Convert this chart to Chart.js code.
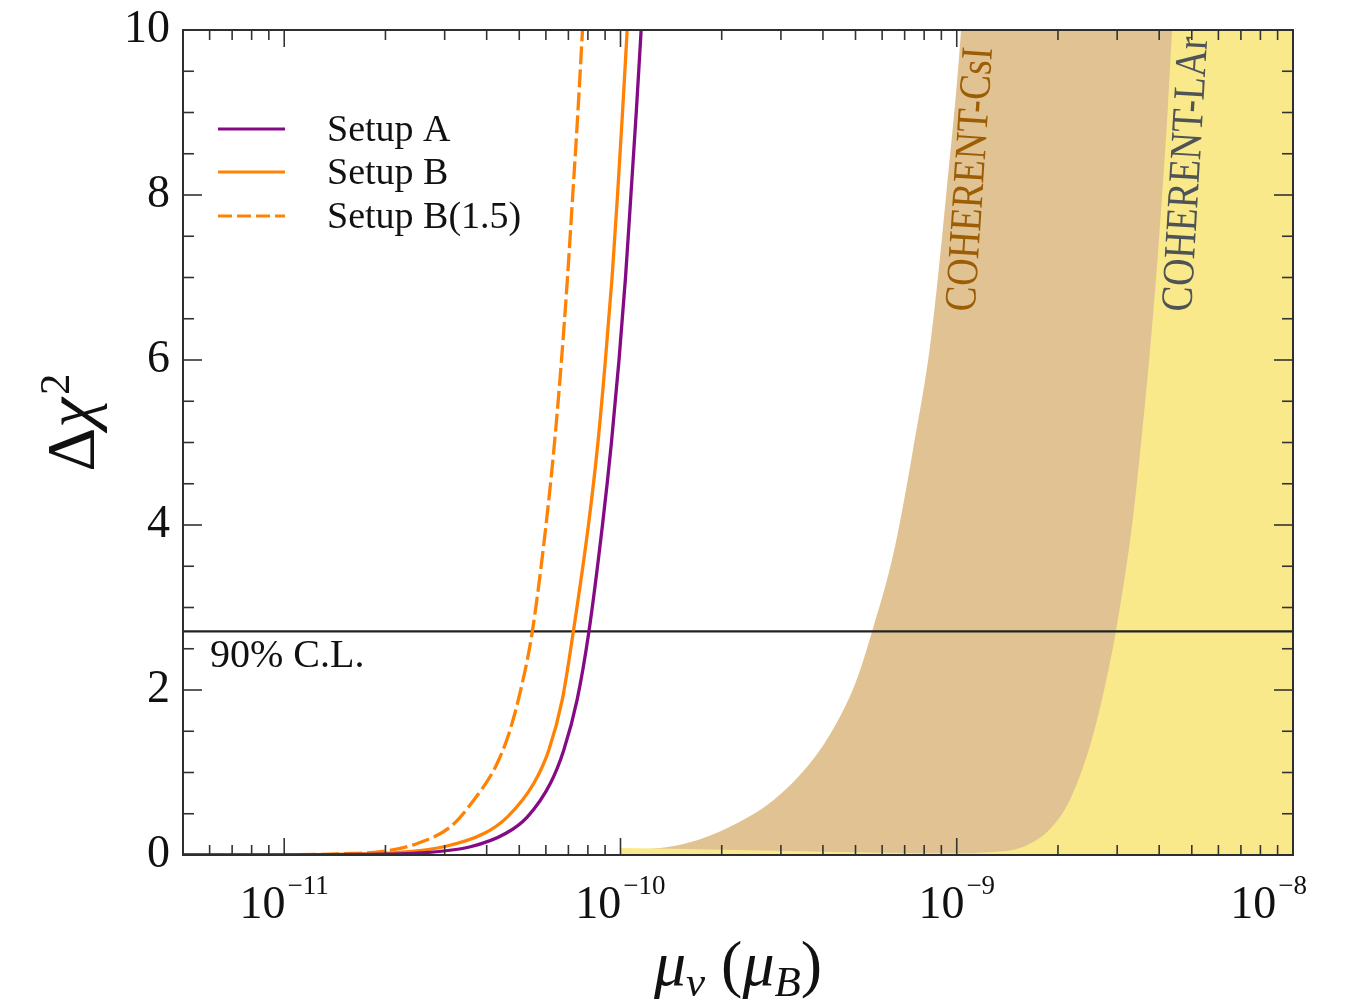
<!DOCTYPE html>
<html>
<head>
<meta charset="utf-8">
<title>Delta chi2 vs magnetic moment</title>
<script src="https://cdn.jsdelivr.net/npm/chart.js@4.4.1/dist/chart.umd.min.js"></script>
<style>
html,body{margin:0;padding:0;background:#ffffff;overflow:hidden;}
canvas{display:block;}
</style>
</head>
<body>
<canvas id="chart" width="1357" height="1004"></canvas>
<script>
// ---------- axes ----------
const xRange = [5e-12, 1e-8];
const yRange = [0, 10];
const xMajorTicks = [1e-11, 1e-10, 1e-9, 1e-8];
const xTickBase = '10';
const xTickExponents = ['\u221211', '\u221210', '\u22129', '\u22128'];
const xMinorTicks = [6e-12, 7e-12, 8e-12, 9e-12,
  2e-11, 3e-11, 4e-11, 5e-11, 6e-11, 7e-11, 8e-11, 9e-11,
  2e-10, 3e-10, 4e-10, 5e-10, 6e-10, 7e-10, 8e-10, 9e-10,
  2e-9, 3e-9, 4e-9, 5e-9, 6e-9, 7e-9, 8e-9, 9e-9];
const yMajorTicks = [0, 2, 4, 6, 8, 10];
const yMinorTicks = [0.5, 1, 1.5, 2.5, 3, 3.5, 4.5, 5, 5.5, 6.5, 7, 7.5, 8.5, 9, 9.5];

// ---------- series (mu_nu in mu_B, Delta chi^2) ----------
const setupA_mu   = [5e-12, 1e-11, 1.8e-11, 2.43e-11, 3.58e-11, 4.55e-11, 5.28e-11, 6.19e-11, 6.78e-11, 7.43e-11, 8.05e-11, 8.84e-11, 9.40e-11, 9.90e-11, 1.035e-10, 1.074e-10, 1.114e-10, 1.152e-10];
const setupA_chi2 = [0, 0.001, 0.008, 0.02, 0.10, 0.26, 0.46, 0.87, 1.27, 1.88, 2.70, 4.0, 5.0, 6.0, 7.0, 8.0, 9.0, 10.0];

const setupB_mu   = [5e-12, 1e-11, 1.6e-11, 2.17e-11, 2.985e-11, 3.925e-11, 4.605e-11, 5.525e-11, 6.12e-11, 6.71e-11, 7.235e-11, 8.03e-11, 8.57e-11, 9.02e-11, 9.44e-11, 9.80e-11, 1.014e-10, 1.047e-10];
const setupB_chi2 = [0, 0.002, 0.01, 0.03, 0.10, 0.26, 0.46, 0.87, 1.27, 1.88, 2.70, 4.0, 5.0, 6.0, 7.0, 8.0, 9.0, 10.0];

const setupB15_mu   = [5e-12, 1e-11, 1.5e-11, 1.935e-11, 2.488e-11, 3.125e-11, 3.664e-11, 4.25e-11, 4.657e-11, 5.103e-11, 5.464e-11, 6.006e-11, 6.366e-11, 6.677e-11, 6.957e-11, 7.212e-11, 7.47e-11, 7.71e-11];
const setupB15_chi2 = [0, 0.003, 0.015, 0.04, 0.14, 0.343, 0.667, 1.07, 1.47, 2.08, 2.70, 4.0, 5.0, 6.0, 7.0, 8.0, 9.0, 10.0];

const csi_mu   = [1e-10, 1.256e-10, 1.69e-10, 2.22e-10, 2.855e-10, 3.59e-10, 4.21e-10, 4.99e-10, 5.60e-10, 6.52e-10, 7.41e-10, 8.36e-10, 9.3e-10, 1.03e-9, 1.1e-9, 1e-8];
const csi_chi2 = [0.07, 0.08, 0.18, 0.384, 0.667, 1.07, 1.47, 2.08, 2.71, 3.70, 4.91, 6.22, 8.0, 10.0, 12.0, 12.0];

const lar_mu   = [1e-10, 2e-10, 4e-10, 7e-10, 1e-9, 1.2e-9, 1.58e-9, 1.9e-9, 2.17e-9, 2.49e-9, 2.73e-9, 2.97e-9, 3.323e-9, 3.534e-9, 3.734e-9, 3.917e-9, 4.081e-9, 4.237e-9, 4.37e-9, 4.7e-9, 1e-8];
const lar_chi2 = [0.085, 0.065, 0.04, 0.025, 0.02, 0.03, 0.10, 0.32, 0.667, 1.32, 1.96, 2.70, 4.0, 5.0, 6.0, 7.0, 8.0, 9.0, 10.0, 12.0, 12.0];

const clLevel = 2.71;
const clLabel = '90% C.L.';
const seriesLabels = ['Setup A', 'Setup B', 'Setup B(1.5)'];
const bandLabels = ['COHERENT-CsI', 'COHERENT-LAr'];

// ---------- styles ----------
const PURPLE = '#850a85';
const ORANGE = '#ff8205';
const TAN = '#e1c393';
const YELLOW = '#fae98a';
const SERIF = '"Liberation Serif", "DejaVu Serif", "Times New Roman", serif';

function pts(xs, ys) { return xs.map((v, i) => ({ x: v, y: ys[i] })); }
function seg(ctx, x1, y1, x2, y2) { ctx.beginPath(); ctx.moveTo(x1, y1); ctx.lineTo(x2, y2); ctx.stroke(); }

const decorPlugin = {
  id: 'decor',
  afterDatasetsDraw(chart) {
    const { ctx, chartArea: a, scales } = chart;
    const xs = scales.x, ys = scales.y;
    ctx.save();

    // ---- band labels (rotated, following the band edges) ----
    ctx.textAlign = 'left';
    ctx.textBaseline = 'alphabetic';
    const bandLab = (txt, xv, yv, color, ang) => {
      ctx.save();
      ctx.translate(xs.getPixelForValue(xv), ys.getPixelForValue(yv));
      ctx.rotate(ang);
      ctx.scale(1, 1.18);
      ctx.font = '38px ' + SERIF;
      ctx.fillStyle = color;
      ctx.fillText(txt, 0, 0);
      ctx.restore();
    };
    bandLab(bandLabels[0], 1.13e-9, 6.58, '#9c5d05', -86.2 * Math.PI / 180);
    bandLab(bandLabels[1], 4.97e-9, 6.58, '#4d5357', -86.6 * Math.PI / 180);

    // ---- 90% C.L. label ----
    ctx.font = '40px ' + SERIF;
    ctx.fillStyle = '#111';
    ctx.fillText(clLabel, a.left + 27, ys.getPixelForValue(clLevel) + 36);

    // ---- legend ----
    const legY = [a.top + 99, a.top + 142, a.top + 186];
    const legColors = [PURPLE, ORANGE, ORANGE];
    const legDash = [[], [], [14, 5]];
    for (let i = 0; i < 3; i++) {
      ctx.strokeStyle = legColors[i];
      ctx.lineWidth = 3.2;
      ctx.setLineDash(legDash[i]);
      seg(ctx, a.left + 35, legY[i], a.left + 102, legY[i]);
      ctx.setLineDash([]);
      ctx.font = '38px ' + SERIF;
      ctx.fillStyle = '#111';
      ctx.fillText(seriesLabels[i], a.left + 144, legY[i] + 12);
    }

    // ---- inward tick marks on all four sides ----
    ctx.strokeStyle = '#333';
    ctx.lineWidth = 1.6;
    const MAJ = 17, MIN = 10;
    xMajorTicks.forEach(v => { const p = xs.getPixelForValue(v); seg(ctx, p, a.bottom, p, a.bottom - MAJ); seg(ctx, p, a.top, p, a.top + MAJ); });
    xMinorTicks.forEach(v => { const p = xs.getPixelForValue(v); seg(ctx, p, a.bottom, p, a.bottom - MIN); seg(ctx, p, a.top, p, a.top + MIN); });
    yMajorTicks.forEach(v => { const p = ys.getPixelForValue(v); seg(ctx, a.left, p, a.left + 19, p); seg(ctx, a.right, p, a.right - 19, p); });
    yMinorTicks.forEach(v => { const p = ys.getPixelForValue(v); seg(ctx, a.left, p, a.left + 11, p); seg(ctx, a.right, p, a.right - 11, p); });

    // ---- frame ----
    ctx.strokeStyle = '#2e2e2e';
    ctx.lineWidth = 2;
    ctx.strokeRect(a.left, a.top, a.right - a.left, a.bottom - a.top);

    // ---- x tick labels 10^n ----
    ctx.fillStyle = '#111';
    xMajorTicks.forEach((v, i) => {
      const p = xs.getPixelForValue(v);
      ctx.font = '46px ' + SERIF;
      const w1 = ctx.measureText(xTickBase).width;
      ctx.font = '27px ' + SERIF;
      const w2 = ctx.measureText(xTickExponents[i]).width;
      const tot = w1 + 2 + w2;
      let x0 = p - tot / 2;
      if (x0 + tot > a.right + 14) x0 = a.right + 14 - tot;
      const base = a.bottom + 63;
      ctx.font = '46px ' + SERIF;
      ctx.fillText(xTickBase, x0, base);
      ctx.font = '27px ' + SERIF;
      ctx.fillText(xTickExponents[i], x0 + w1 + 2, base - 24);
    });

    // ---- x axis title: mu_nu (mu_B) ----
    const parts = [
      ['\u03bc', 'italic 64px ', 0],
      ['\u03bd', 'italic 43px ', 11],
      [' (', '64px ', 0],
      ['\u03bc', 'italic 64px ', 0],
      ['B', 'italic 43px ', 11],
      [')', '64px ', 0]
    ];
    let tw = 0;
    parts.forEach(p => { ctx.font = p[1] + SERIF; p.push(ctx.measureText(p[0]).width); tw += p[3]; });
    let cx = (a.left + a.right) / 2 - tw / 2;
    const tb = a.bottom + 130;
    parts.forEach(p => { ctx.font = p[1] + SERIF; ctx.fillText(p[0], cx, tb + p[2]); cx += p[3]; });

    // ---- y axis title: Delta chi^2 ----
    ctx.save();
    ctx.translate(a.left - 90, (a.top + a.bottom) / 2 - 20);
    ctx.rotate(-Math.PI / 2);
    ctx.font = '68px ' + SERIF; const wD = ctx.measureText('\u0394').width;
    ctx.font = 'italic 68px ' + SERIF; const wC = ctx.measureText('\u03c7').width;
    ctx.font = '43px ' + SERIF; const wS = ctx.measureText('2').width;
    const tot = wD + wC + 3 + wS;
    const x0 = -tot / 2;
    ctx.font = '68px ' + SERIF; ctx.fillText('\u0394', x0, 0);
    ctx.font = 'italic 68px ' + SERIF; ctx.fillText('\u03c7', x0 + wD, 0);
    ctx.font = '43px ' + SERIF; ctx.fillText('2', x0 + wD + wC + 3, -24);
    ctx.restore();

    ctx.restore();
  }
};

new Chart(document.getElementById('chart'), {
  type: 'line',
  data: {
    datasets: [
      { label: seriesLabels[0], data: pts(setupA_mu, setupA_chi2), borderColor: PURPLE, borderWidth: 3.3, pointRadius: 0, cubicInterpolationMode: 'monotone', fill: false, order: 1 },
      { label: seriesLabels[1], data: pts(setupB_mu, setupB_chi2), borderColor: ORANGE, borderWidth: 3.3, pointRadius: 0, cubicInterpolationMode: 'monotone', fill: false, order: 2 },
      { label: seriesLabels[2], data: pts(setupB15_mu, setupB15_chi2), borderColor: ORANGE, borderWidth: 3.3, borderDash: [18, 5], pointRadius: 0, cubicInterpolationMode: 'monotone', fill: false, order: 3 },
      { label: clLabel, data: pts(xRange, [clLevel, clLevel]), borderColor: '#222', borderWidth: 2.2, pointRadius: 0, fill: false, order: 4 },
      { label: bandLabels[1], data: pts(lar_mu, lar_chi2), borderWidth: 0, borderColor: 'rgba(0,0,0,0)', backgroundColor: YELLOW, pointRadius: 0, cubicInterpolationMode: 'monotone', fill: 'origin', order: 5 },
      { label: bandLabels[0], data: pts(csi_mu, csi_chi2), borderWidth: 0, borderColor: 'rgba(0,0,0,0)', backgroundColor: TAN, pointRadius: 0, cubicInterpolationMode: 'monotone', fill: 'origin', order: 6 }
    ]
  },
  options: {
    responsive: false,
    animation: false,
    events: [],
    layout: { padding: { top: 30, right: 64, left: 0, bottom: 0 } },
    plugins: { legend: { display: false }, tooltip: { enabled: false } },
    scales: {
      x: {
        type: 'logarithmic', min: xRange[0], max: xRange[1],
        grid: { display: false }, border: { display: false },
        ticks: { display: false },
        afterFit(s) { s.height = 149; s.paddingLeft = 0; s.paddingRight = 0; }
      },
      y: {
        type: 'linear', min: yRange[0], max: yRange[1],
        grid: { display: false }, border: { display: false },
        ticks: { stepSize: 2, color: '#111', padding: 5, font: { family: SERIF, size: 46 } },
        afterFit(s) { s.width = 183; s.paddingTop = 0; s.paddingBottom = 0; }
      }
    }
  },
  plugins: [decorPlugin]
});
</script>
</body>
</html>
